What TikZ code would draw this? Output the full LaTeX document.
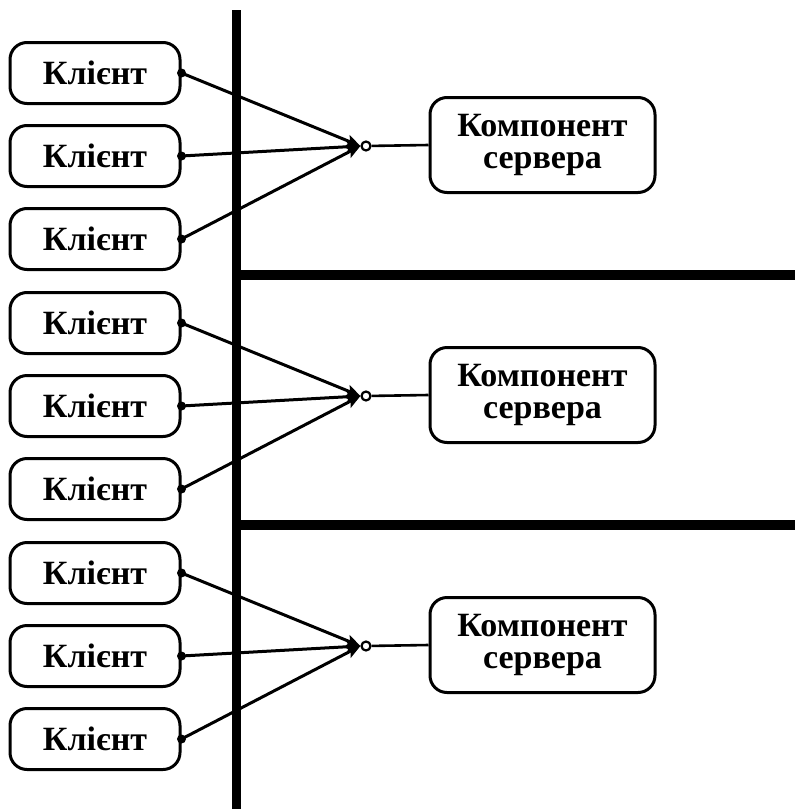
\documentclass[tikz,border=0pt]{standalone}
\usepackage{fontspec}
\setmainfont{Liberation Serif}
\usetikzlibrary{arrows.meta}
\begin{document}
\begin{tikzpicture}[x=1pt,y=-1pt,
  client/.style={draw,line width=3pt,rounded corners=17pt,minimum width=170pt,minimum height=61pt,
    font=\fontsize{34}{36}\selectfont\bfseries,inner sep=0pt},
  server/.style={draw,line width=3pt,rounded corners=17pt,minimum width=225pt,minimum height=95pt,
    font=\fontsize{34}{32}\selectfont\bfseries,align=center,inner sep=0pt},
  junction/.style={draw,circle,line width=2.2pt,inner sep=0pt,minimum size=9pt,fill=white},
  link/.style={line width=3pt,-{Stealth[length=14pt,width=12pt,inset=3pt]}},
  dot/.style={fill,radius=4.5pt},
  bar/.style={line width=10pt}]
\useasboundingbox (0,0) rectangle (795,809);

% boundary bars
\coordinate (vtop) at (236.5,10);
\coordinate (vbot) at (236.5,809);
\coordinate (h1a) at (232,275);
\coordinate (h1b) at (795,275);
\coordinate (h2a) at (232,525);
\coordinate (h2b) at (795,525);
\draw[line width=9pt] (vtop) -- (vbot);
\draw[bar] (h1a) -- (h1b);
\draw[bar] (h2a) -- (h2b);

\foreach \g/\dy in {a/0,b/250,c/500}{
  \node[client] (\g1) at (95,73+\dy) {Клієнт};
  \node[client] (\g2) at (95,156+\dy) {Клієнт};
  \node[client] (\g3) at (95,239+\dy) {Клієнт};
  \node[server] (\g s) at (542.5,145+\dy) {Компонент\\сервера};
  \node[junction] (\g j) at (366,146+\dy) {};
  \draw[line width=2.6pt] (\g j) -- (\g s.west);
  \foreach \k in {1,2,3}{
    \draw[link] (\g\k.east) -- (\g j.west);
    \fill[dot] (\g\k.east) circle;
  }
}
\end{tikzpicture}
\end{document}
